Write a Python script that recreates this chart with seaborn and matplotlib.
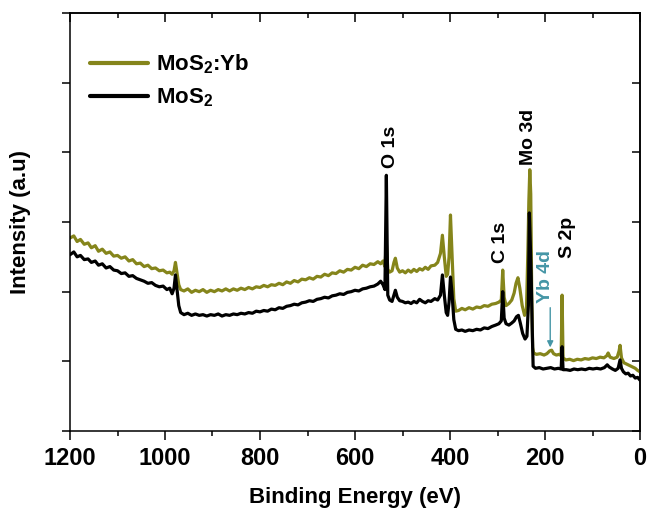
import numpy as np
import pandas as pd
import matplotlib
matplotlib.use('Agg')
import matplotlib.pyplot as plt
import seaborn as sns
from matplotlib.ticker import MultipleLocator, NullFormatter

# ---------------- data ----------------
energy_yb = [1200, 1192, 1185, 1178, 1170, 1162, 1155, 1147, 1140, 1132, 1124, 1116, 1108, 1100,
             1092, 1084, 1076, 1068, 1060, 1052, 1044, 1036, 1028, 1020, 1012, 1004, 996, 990,
             985, 981, 978, 975, 971, 967, 960, 952, 944, 936, 928, 920, 912, 904, 896, 888,
             880, 872, 864, 856, 848, 840, 832, 824, 816, 808, 800, 792, 784, 776, 768, 760,
             752, 744, 736, 728, 720, 712, 704, 696, 688, 680, 672, 664, 656, 648, 640, 632,
             624, 616, 608, 600, 592, 584, 576, 568, 560, 552, 546, 541, 537, 534, 531, 527,
             522, 518, 515, 511, 506, 500, 494, 488, 482, 476, 470, 464, 458, 452, 446, 440,
             432, 426, 420, 416, 412, 408, 405, 402, 399, 396, 392, 388, 382, 375, 368, 360,
             352, 344, 336, 328, 320, 312, 304, 297, 292, 289, 286, 282, 276, 270, 265, 261,
             257, 253, 248, 243, 239, 236, 234, 232, 230, 228, 226, 224, 218, 210, 202, 196,
             190, 186, 182, 176, 170, 166, 164, 162, 156, 148, 140, 132, 124, 116, 108, 100,
             92, 84, 76, 70, 67, 63, 55, 48, 44, 42, 39, 34, 28, 22, 16, 10, 5, 0]
intensity_yb = [2.77, 2.80, 2.72, 2.75, 2.68, 2.70, 2.63, 2.66, 2.58, 2.61, 2.55, 2.57, 2.51, 2.52,
                2.48, 2.50, 2.44, 2.46, 2.40, 2.41, 2.36, 2.38, 2.33, 2.34, 2.30, 2.31, 2.27, 2.28,
                2.25, 2.30, 2.42, 2.28, 2.10, 2.03, 2.01, 2.04, 1.99, 2.02, 2.00, 2.03, 1.99, 2.02,
                2.00, 2.03, 2.01, 2.04, 2.01, 2.04, 2.02, 2.05, 2.03, 2.06, 2.04, 2.07, 2.06, 2.09,
                2.07, 2.10, 2.09, 2.12, 2.10, 2.14, 2.12, 2.16, 2.14, 2.18, 2.17, 2.20, 2.18, 2.22,
                2.21, 2.25, 2.23, 2.27, 2.26, 2.30, 2.28, 2.32, 2.31, 2.35, 2.33, 2.38, 2.36, 2.40,
                2.39, 2.43, 2.40, 2.44, 2.36, 2.70, 2.32, 2.28, 2.30, 2.42, 2.48, 2.34, 2.28, 2.30,
                2.27, 2.31, 2.28, 2.32, 2.29, 2.33, 2.31, 2.35, 2.32, 2.37, 2.38, 2.42, 2.55, 2.81,
                2.50, 2.22, 2.25, 2.50, 3.10, 2.60, 1.90, 1.72, 1.73, 1.76, 1.74, 1.77, 1.75, 1.78,
                1.77, 1.80, 1.79, 1.82, 1.83, 1.85, 1.88, 2.31, 1.92, 1.80, 1.83, 1.88, 1.98, 2.12,
                2.20, 2.05, 1.80, 1.66, 1.75, 2.60, 3.30, 3.75, 3.40, 2.00, 1.20, 1.12, 1.10, 1.11,
                1.09, 1.11, 1.15, 1.16, 1.11, 1.09, 1.10, 1.08, 1.95, 1.05, 1.02, 1.03, 1.01, 1.03,
                1.02, 1.04, 1.03, 1.05, 1.04, 1.06, 1.05, 1.08, 1.12, 1.06, 1.04, 1.06, 1.15, 1.23,
                1.05, 0.98, 0.96, 0.94, 0.92, 0.90, 0.87, 0.85]

energy_mos2 = [1200, 1192, 1185, 1178, 1170, 1162, 1155, 1147, 1140, 1132, 1124, 1116, 1108, 1100,
               1092, 1084, 1076, 1068, 1060, 1052, 1044, 1036, 1028, 1020, 1012, 1004, 996, 990,
               985, 981, 978, 975, 971, 967, 960, 952, 944, 936, 928, 920, 912, 904, 896, 888,
               880, 872, 864, 856, 848, 840, 832, 824, 816, 808, 800, 792, 784, 776, 768, 760,
               752, 744, 736, 728, 720, 712, 704, 696, 688, 680, 672, 664, 656, 648, 640, 632,
               624, 616, 608, 600, 592, 584, 576, 568, 560, 552, 546, 541, 537, 534, 531, 527,
               522, 518, 515, 511, 506, 500, 494, 488, 482, 476, 470, 464, 458, 452, 446, 440,
               432, 426, 420, 416, 412, 408, 405, 402, 399, 396, 392, 388, 382, 375, 368, 360,
               352, 344, 336, 328, 320, 312, 304, 297, 292, 289, 286, 282, 276, 270, 265, 260,
               256, 252, 247, 242, 238, 235, 233, 231, 229, 227, 225, 220, 212, 204, 196, 188,
               180, 172, 166, 164, 162, 155, 147, 139, 131, 123, 115, 107, 99, 91, 83, 75,
               69, 65, 58, 52, 46, 42, 39, 35, 30, 25, 20, 15, 10, 5, 0]
intensity_mos2 = [2.53, 2.57, 2.50, 2.52, 2.46, 2.47, 2.42, 2.44, 2.38, 2.40, 2.34, 2.36, 2.31, 2.30,
                  2.26, 2.27, 2.22, 2.23, 2.19, 2.17, 2.15, 2.12, 2.13, 2.09, 2.07, 2.08, 2.03, 2.05,
                  1.97, 2.05, 2.24, 2.05, 1.80, 1.70, 1.67, 1.69, 1.66, 1.68, 1.66, 1.67, 1.65, 1.67,
                  1.66, 1.68, 1.65, 1.67, 1.66, 1.68, 1.67, 1.69, 1.68, 1.70, 1.69, 1.72, 1.71, 1.73,
                  1.72, 1.75, 1.74, 1.77, 1.76, 1.79, 1.80, 1.82, 1.81, 1.84, 1.85, 1.87, 1.86, 1.89,
                  1.90, 1.92, 1.91, 1.94, 1.95, 1.97, 1.96, 1.99, 2.00, 2.02, 2.01, 2.04, 2.05, 2.07,
                  2.08, 2.11, 2.15, 2.10, 2.03, 3.67, 1.95, 1.88, 1.86, 1.95, 2.02, 1.92, 1.87, 1.86,
                  1.84, 1.85, 1.83, 1.86, 1.84, 1.89, 1.86, 1.84, 1.87, 1.86, 1.90, 1.88, 1.95, 2.24,
                  1.95, 1.70, 1.66, 1.85, 2.21, 2.00, 1.60, 1.46, 1.44, 1.45, 1.43, 1.45, 1.44, 1.46,
                  1.45, 1.48, 1.47, 1.50, 1.52, 1.54, 1.58, 2.00, 1.62, 1.54, 1.52, 1.55, 1.58, 1.64,
                  1.66, 1.55, 1.40, 1.32, 1.36, 1.80, 3.13, 2.70, 2.20, 1.50, 0.93, 0.90, 0.91, 0.89,
                  0.90, 0.91, 0.89, 0.90, 0.89, 1.21, 0.88, 0.88, 0.87, 0.89, 0.88, 0.89, 0.88, 0.90,
                  0.89, 0.90, 0.89, 0.91, 0.95, 0.92, 0.89, 0.87, 0.90, 1.02, 0.90, 0.85, 0.82, 0.83,
                  0.79, 0.80, 0.76, 0.77, 0.73]

series_labels = ['MoS$_2$:Yb', 'MoS$_2$']
x_ticks = [1200, 1000, 800, 600, 400, 200, 0]
peak_names = ['O 1s', 'Mo 3d', 'C 1s', 'S 2p']
peak_label_energy = [525, 234, 293, 152]
peak_label_height = [3.78, 3.82, 2.41, 2.48]
yb_label = 'Yb 4d'
yb_label_energy = 200
yb_label_height = 1.84
yb_arrow_energy = 189
yb_arrow_from = 1.77
yb_arrow_to = 1.20

# ---------------- styling ----------------
olive = '#85851b'
teal = '#4596a6'
sns.set_theme(style='ticks')
plt.rcParams['font.family'] = ['Liberation Sans', 'DejaVu Sans']
plt.rcParams['font.weight'] = 'bold'
plt.rcParams['text.color'] = 'black'
plt.rcParams['axes.labelcolor'] = 'black'
plt.rcParams['xtick.color'] = 'black'
plt.rcParams['ytick.color'] = 'black'
plt.rcParams['axes.edgecolor'] = 'black'
plt.rcParams['mathtext.fontset'] = 'custom'
plt.rcParams['mathtext.rm'] = 'Liberation Sans:bold'
plt.rcParams['mathtext.bf'] = 'Liberation Sans:bold'
plt.rcParams['mathtext.it'] = 'Liberation Sans:bold'
plt.rcParams['mathtext.default'] = 'bf'

df = pd.concat([
    pd.DataFrame({'Binding Energy': energy_yb, 'Intensity': intensity_yb, 'Sample': series_labels[0]}),
    pd.DataFrame({'Binding Energy': energy_mos2, 'Intensity': intensity_mos2, 'Sample': series_labels[1]}),
], ignore_index=True)

fig = plt.figure(figsize=(6.47, 5.13), dpi=100)
ax = fig.add_axes([70 / 647, (513 - 431) / 513, 570 / 647, 418 / 513])

sns.lineplot(data=df, x='Binding Energy', y='Intensity', hue='Sample',
             hue_order=series_labels, palette=[olive, 'black'],
             estimator=None, sort=True, linewidth=2.3, ax=ax)

ax.set_xlim(1200, 0)
ax.set_ylim(0, 6)
ax.set_xticks(x_ticks)
ax.xaxis.set_minor_locator(MultipleLocator(100))
ax.yaxis.set_major_locator(MultipleLocator(1))
ax.yaxis.set_major_formatter(NullFormatter())

for sp in ax.spines.values():
    sp.set_visible(True)
    sp.set_linewidth(1.1)
    sp.set_color('black')

ax.tick_params(axis='x', which='major', direction='out', length=6.5, width=1.1,
               labelsize=17, pad=5, colors='black')
ax.tick_params(axis='x', which='minor', direction='out', length=3.5, width=1.1)
ax.tick_params(axis='y', which='major', direction='out', length=6, width=1.1)
for lab in ax.get_xticklabels():
    lab.set_fontweight('bold')

secx = ax.secondary_xaxis('top')
secx.set_xticks(x_ticks)
secx.xaxis.set_minor_locator(MultipleLocator(100))
secx.tick_params(axis='x', which='major', direction='in', length=6.5, width=1.1, labeltop=False)
secx.tick_params(axis='x', which='minor', direction='in', length=3.5, width=1.1)
secx.spines['top'].set_linewidth(1.1)
secy = ax.secondary_yaxis('right')
secy.yaxis.set_major_locator(MultipleLocator(1))
secy.tick_params(axis='y', which='major', direction='in', length=6, width=1.1, labelright=False)
secy.spines['right'].set_linewidth(1.1)

ax.set_xlabel('Binding Energy (eV)', fontsize=16, fontweight='bold', labelpad=12, color='black')
ax.set_ylabel('Intensity (a.u)', fontsize=16, fontweight='bold', color='black')
ax.yaxis.set_label_coords(-0.068, 0.5)

# legend
handles, labels = ax.get_legend_handles_labels()
for h in handles:
    h.set_linewidth(3)
leg = ax.legend(handles, labels, loc='upper left', bbox_to_anchor=(0.035, 0.905),
                frameon=False, handlelength=2.6, handletextpad=0.35,
                labelspacing=0.45, borderpad=0, borderaxespad=0,
                prop={'weight': 'bold', 'size': 16})
for t in leg.get_texts():
    t.set_color('black')

# peak annotations
for name, e, h in zip(peak_names, peak_label_energy, peak_label_height):
    ax.text(e, h, name, rotation=90, ha='center', va='bottom', fontsize=14,
            fontweight='bold', color='black')
ax.text(yb_label_energy, yb_label_height, yb_label, rotation=90, ha='center', va='bottom',
        fontsize=14, fontweight='bold', color=teal)
ax.annotate('', xy=(yb_arrow_energy, yb_arrow_to), xytext=(yb_arrow_energy, yb_arrow_from),
            arrowprops=dict(arrowstyle='-|>', color=teal, lw=1.0, mutation_scale=9,
                            shrinkA=0, shrinkB=0))

fig.savefig('out.png', dpi=100, facecolor='white')
